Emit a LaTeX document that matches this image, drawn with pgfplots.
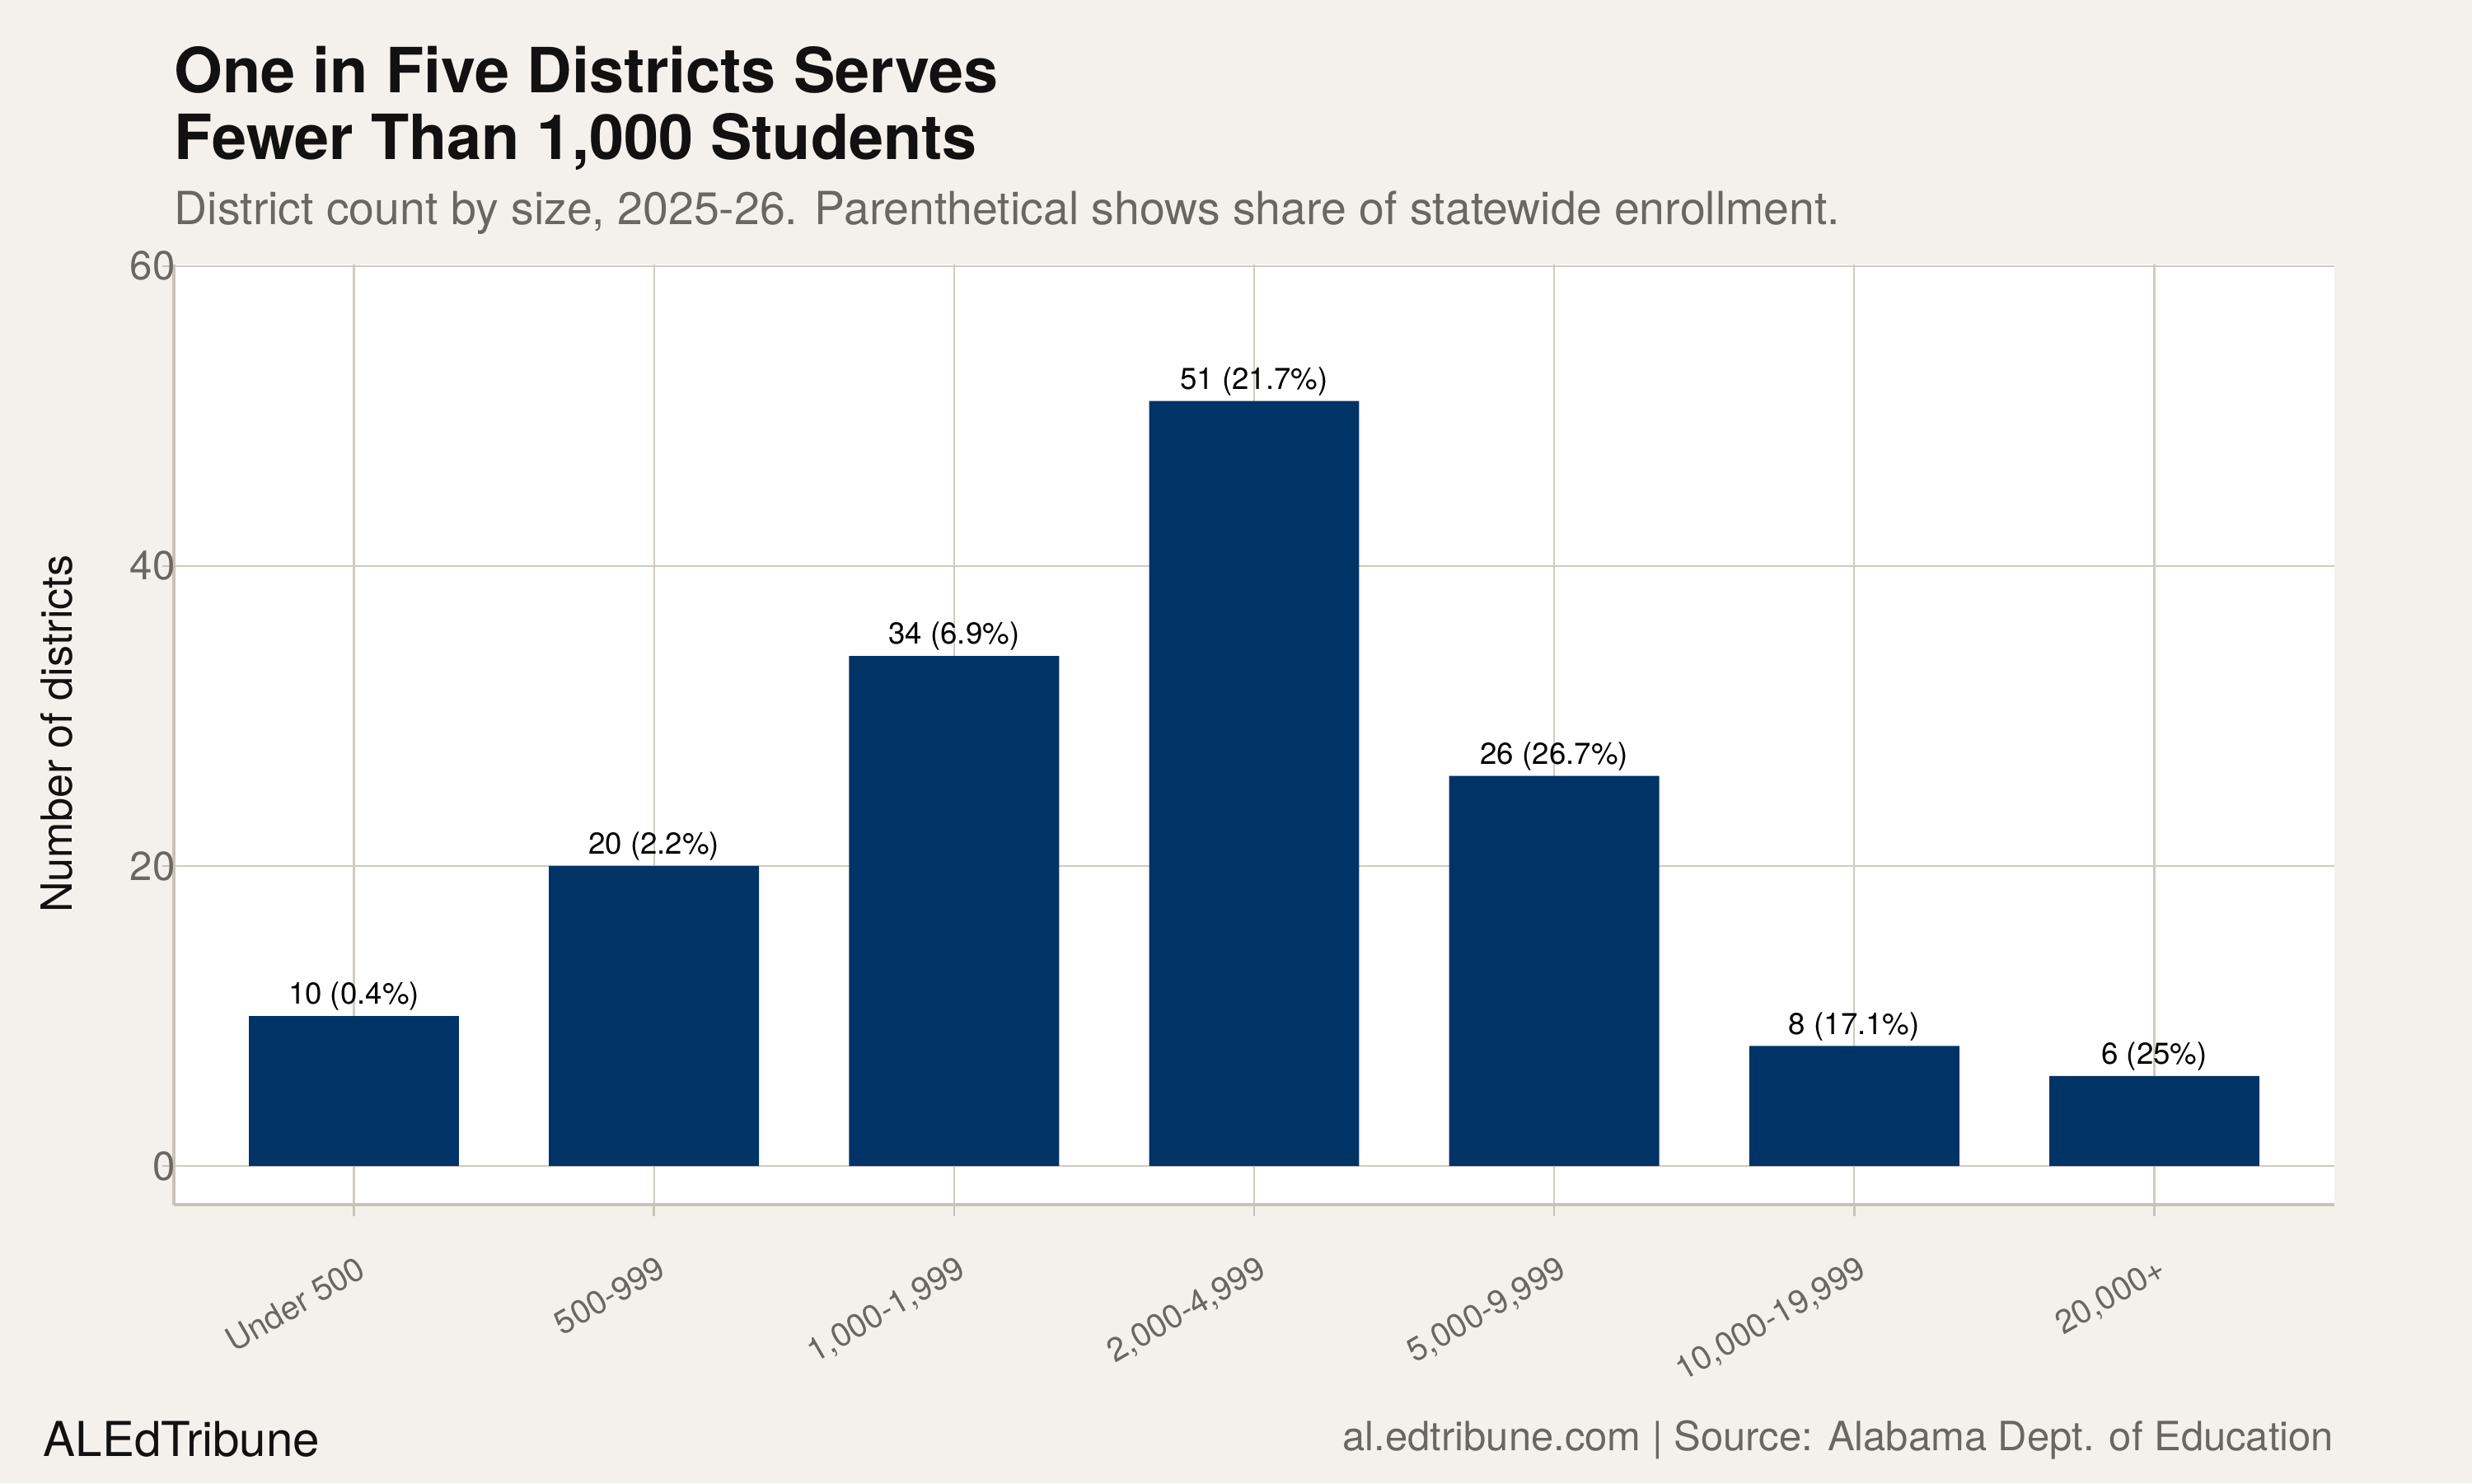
\documentclass[border=0pt]{standalone}
\usepackage{pgfplots}
\pgfplotsset{compat=1.18}
\usepackage{fontspec}
\setmainfont{TeX Gyre Heros}
\definecolor{bg}{HTML}{F4F1EC}
\definecolor{gridc}{HTML}{D0CAC1}
\definecolor{axc}{HTML}{C8C2B8}
\definecolor{barc}{HTML}{003366}
\definecolor{txtgray}{HTML}{6B6660}
\definecolor{ttl}{HTML}{111111}
\begin{document}
\begin{tikzpicture}
\path[use as bounding box, fill=bg] (0,0) rectangle (720pt,432pt);
\begin{axis}[
  at={(50.64pt,81.12pt)}, anchor=south west,
  scale only axis, width=629.28pt, height=273.84pt,
  xmin=0.4, xmax=7.6, ymin=-2.58, ymax=60.1,
  axis background/.style={fill=white},
  axis lines=left,
  axis line style={-, draw=axc, line width=0.75pt},
  xtick={1,...,7},
  xticklabels={Under 500,500-999,{1,000-1,999},{2,000-4,999},{5,000-9,999},{10,000-19,999},{20,000+}},
  ytick={0,20,40,60},
  tick align=outside,
  major tick length=3.4pt,
  tick style={draw=axc, line width=0.6pt},
  grid=major,
  major grid style={draw=gridc, line width=0.5pt},
  /pgf/number format/assume math mode=true,
  yticklabel style={font=\fontsize{11.8pt}{14pt}\selectfont, text=txtgray, anchor=east, inner sep=0pt, xshift=4pt},
  xticklabel style={font=\fontsize{9.6pt}{11pt}\selectfont, text=txtgray, inner sep=0pt, xshift=0.6pt, yshift=-11pt, rotate=30, anchor=north east},
  ybar, bar width=0.7, bar shift=0pt,
  nodes near coords, point meta=explicit symbolic,
  nodes near coords style={font=\fontsize{8.8pt}{10pt}\selectfont, text=black, anchor=base, inner sep=0pt, yshift=3.4pt},
]
\addplot[fill=barc, draw=none] coordinates {
  (1,10) [10 (0.4\%)]
  (2,20) [20 (2.2\%)]
  (3,34) [34 (6.9\%)]
  (4,51) [51 (21.7\%)]
  (5,26) [26 (26.7\%)]
  (6,8)  [8 (17.1\%)]
  (7,6)  [6 (25\%)]
};
\end{axis}
\node[anchor=base west, font=\bfseries\fontsize{18.15pt}{20pt}\selectfont, text=ttl, inner sep=0pt] at (50.64pt,404.9pt) {One in Five Districts Serves};
\node[anchor=base west, font=\bfseries\fontsize{18.15pt}{20pt}\selectfont, text=ttl, inner sep=0pt] at (50.64pt,385.6pt) {Fewer Than 1,000 Students};
\node[anchor=base west, font=\fontsize{13.3pt}{15pt}\selectfont, text=txtgray, inner sep=0pt] at (50.64pt,366.5pt) {District count by size, 2025-26. Parenthetical shows share of statewide enrollment.};
\node[anchor=base, rotate=90, font=\fontsize{12.5pt}{15pt}\selectfont, text=ttl, inner sep=0pt] at (21.1pt,218.2pt) {Number of districts};
\node[anchor=base west, font=\fontsize{14pt}{16pt}\selectfont, text=ttl, inner sep=0pt] at (12.5pt,7.9pt) {ALEdTribune};
\node[anchor=base east, font=\fontsize{11.75pt}{14pt}\selectfont, text=txtgray, inner sep=0pt] at (679.9pt,9.6pt) {al.edtribune.com | Source: Alabama Dept. of Education};
\end{tikzpicture}
\end{document}
